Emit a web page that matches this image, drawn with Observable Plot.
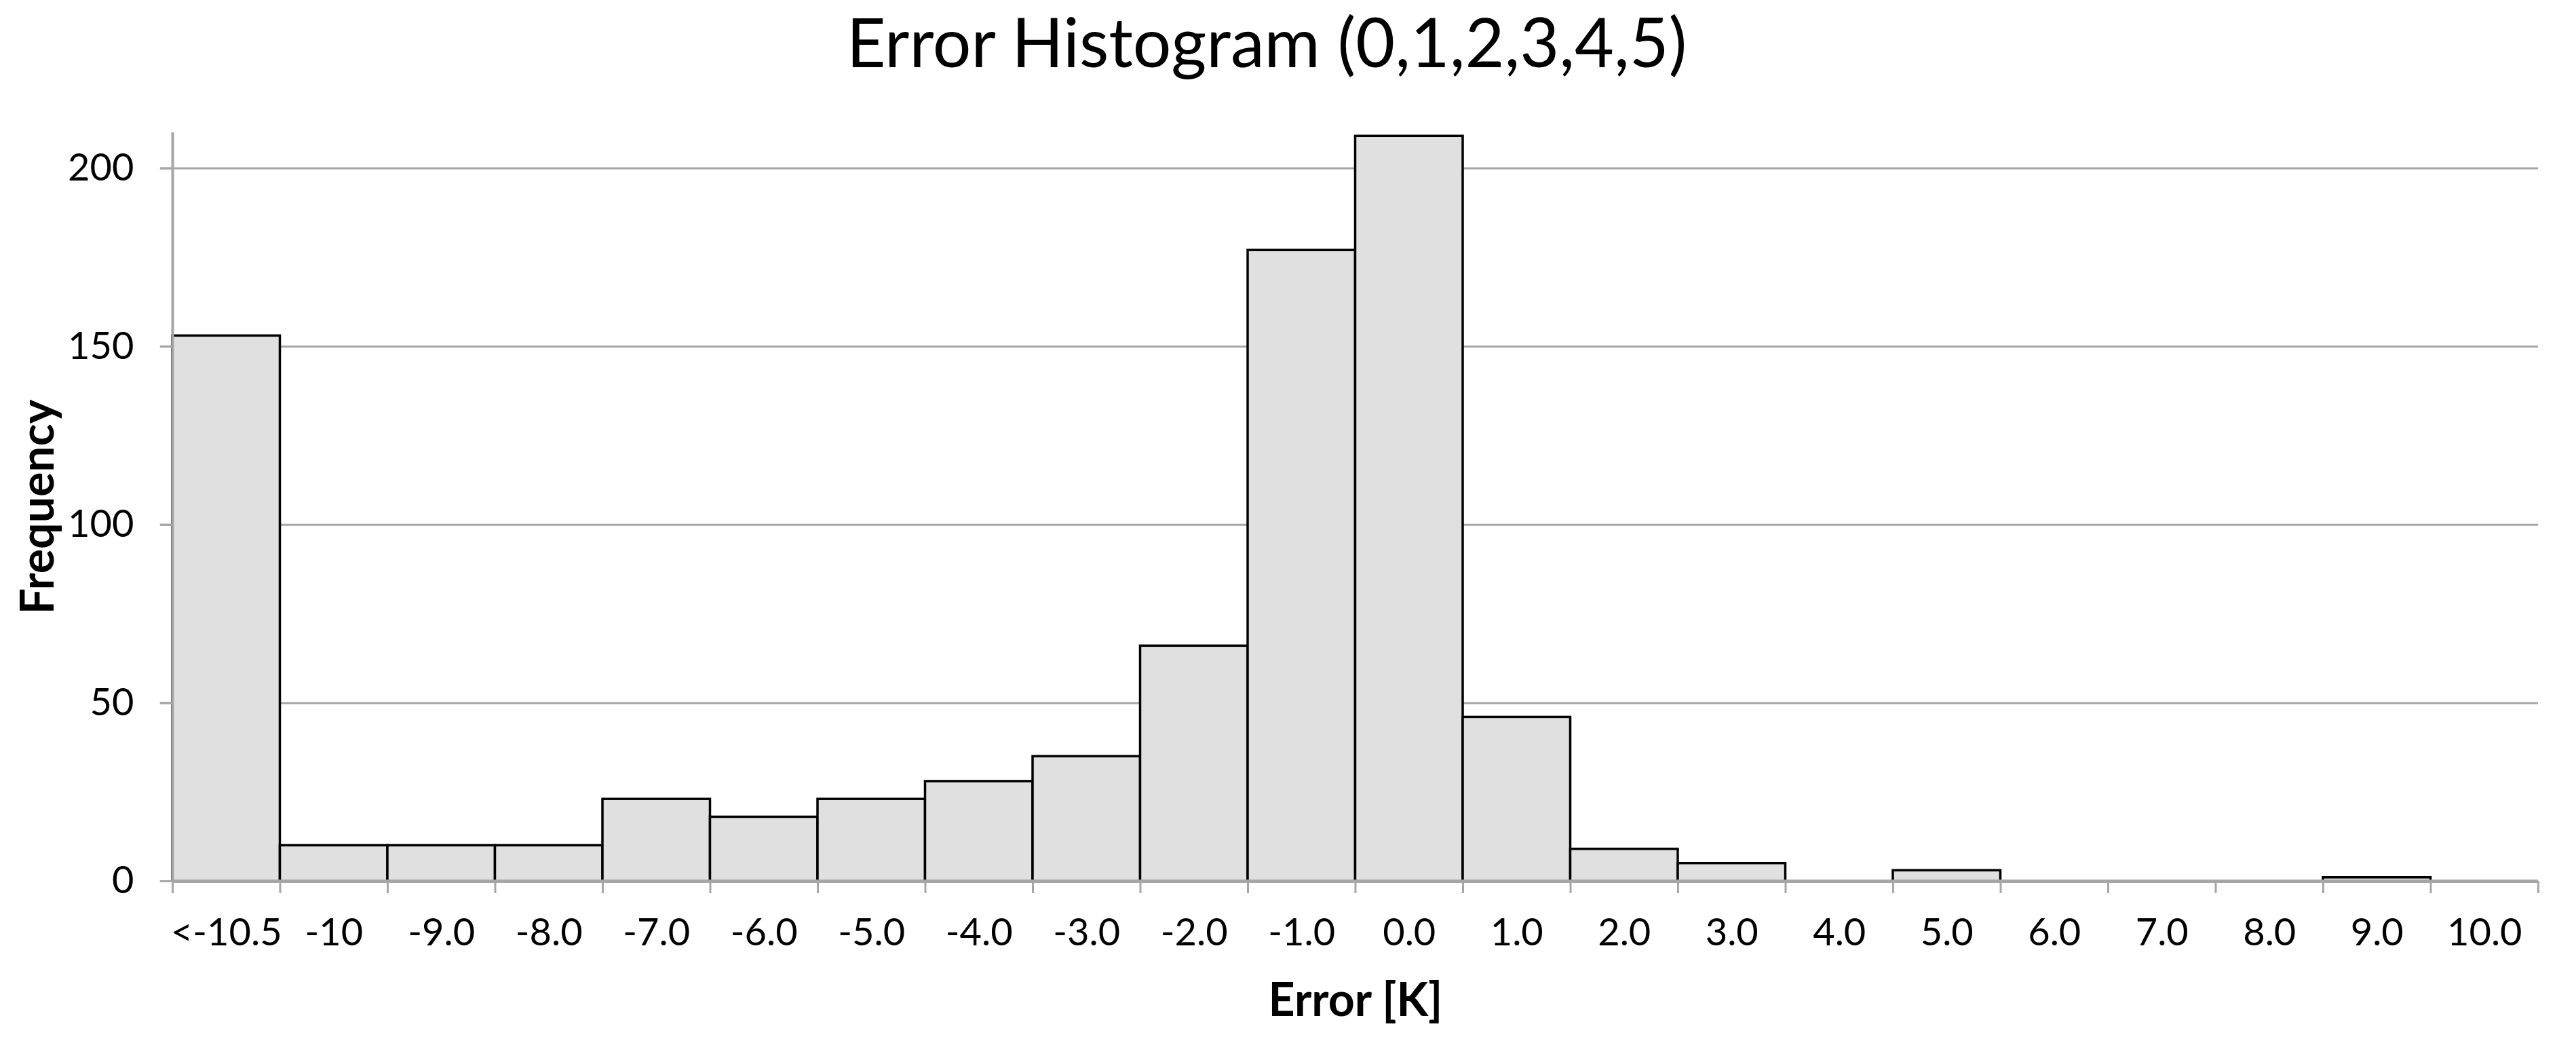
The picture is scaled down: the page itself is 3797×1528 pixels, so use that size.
<!DOCTYPE html>
<html>
<head>
<meta charset="utf-8">
<script src="https://cdn.jsdelivr.net/npm/d3@7"></script>
<script src="https://cdn.jsdelivr.net/npm/@observablehq/plot@0.6"></script>
<style>
  html, body { margin: 0; padding: 0; background: #fff; }
  #title { height: 150px; width: 3797px; position: relative; font-family: Lato, "Open Sans", sans-serif; }
  #title span { position: absolute; left: 0; width: 3734px; text-align: center; top: 10px; font-size: 100px; line-height: 1; color: #000; }
</style>
</head>
<body>
<div id="title"><span>Error Histogram (0,1,2,3,4,5)</span></div>
<div id="chart"></div>
<script>
const binLabels = ["<-10.5", "-10", "-9.0", "-8.0", "-7.0", "-6.0", "-5.0", "-4.0", "-3.0", "-2.0", "-1.0", "0.0", "1.0", "2.0", "3.0", "4.0", "5.0", "6.0", "7.0", "8.0", "9.0", "10.0"];
const frequencies = [153, 10, 10, 10, 23, 18, 23, 28, 35, 66, 177, 209, 46, 9, 5, 0, 3, 0, 0, 0, 1, 0];
const yTicks = [0, 50, 100, 150, 200];
const xTitle = "Error [K]";
const yTitle = "Frequency";

const bins = binLabels.map((label, i) => ({label, i, count: frequencies[i]}));
const centers = bins.map(d => d.i + 0.5);
const edges = d3.range(binLabels.length + 1);

const gray = "#a6a6a6";

const chart = Plot.plot({
  width: 3797,
  height: 1378,
  marginLeft: 254,
  marginRight: 56,
  marginTop: 45,
  marginBottom: 230,
  style: {fontFamily: "Lato, 'Open Sans', sans-serif", fontSize: "56px", color: "#000", background: "#fff"},
  x: {type: "linear", domain: [0, binLabels.length]},
  y: {domain: [0, 210]},
  marks: [
    Plot.gridY(yTicks, {stroke: gray, strokeOpacity: 1, strokeWidth: 3, x1: -0.115}),
    Plot.rectY(bins.filter(d => d.count > 0), {x1: "i", x2: d => d.i + 1, y: "count", fill: "#e0e0e0", stroke: "#000", strokeWidth: 3.5}),
    Plot.ruleX([0], {stroke: gray, strokeWidth: 4}),
    Plot.ruleY([0], {stroke: gray, strokeWidth: 5}),
    Plot.axisY(yTicks, {tickSize: 18, tickPadding: 39, stroke: gray, strokeWidth: 3, strokeOpacity: 1, fill: "#000", label: null}),
    Plot.axisX(edges, {tickSize: 18, tickFormat: () => "", stroke: gray, strokeWidth: 3, strokeOpacity: 1, label: null}),
    Plot.axisX(centers, {tickSize: 0, tickPadding: 55, tickFormat: d => binLabels[Math.floor(d)], fill: "#000", label: null}),
    Plot.text([xTitle], {frameAnchor: "bottom", lineAnchor: "middle", textAnchor: "middle", dy: 177, fontWeight: "bold", fontSize: 68, fill: "#000"}),
    Plot.text([yTitle], {frameAnchor: "left", lineAnchor: "middle", textAnchor: "middle", rotate: -90, dx: -197, fontWeight: "bold", fontSize: 68, fill: "#000"})
  ]
});
document.getElementById("chart").appendChild(chart);
</script>
</body>
</html>
